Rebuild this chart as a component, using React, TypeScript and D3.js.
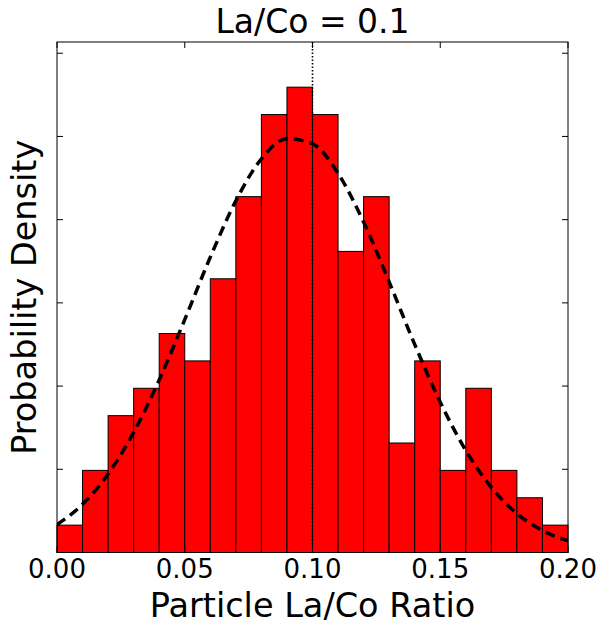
import React from "react";
import * as d3 from "d3";

// Histogram bins (left edges) and probability densities
const binEdges = [0.0, 0.01, 0.02, 0.03, 0.04, 0.05, 0.06, 0.07, 0.08, 0.09, 0.1, 0.11, 0.12, 0.13, 0.14, 0.15, 0.16, 0.17, 0.18, 0.19];
const binWidth = 0.01;
const densities = [0.658, 1.974, 3.289, 3.947, 5.263, 4.605, 6.579, 8.553, 10.526, 11.184, 10.526, 7.237, 8.553, 2.632, 4.605, 1.974, 3.947, 1.974, 1.316, 0.658];

// Fitted normal curve, values read at each 0.01 step
const curveX = [0.0, 0.01, 0.02, 0.03, 0.04, 0.05, 0.06, 0.07, 0.08, 0.09, 0.1, 0.11, 0.12, 0.13, 0.14, 0.15, 0.16, 0.17, 0.18, 0.19, 0.2];
const curveY = [0.668, 1.158, 1.886, 2.886, 4.146, 5.597, 7.098, 8.454, 9.461, 9.946, 9.822, 9.113, 7.942, 6.503, 5.001, 3.614, 2.453, 1.564, 0.936, 0.527, 0.279];

const xTicks = [0.0, 0.05, 0.1, 0.15, 0.2];
const xTickLabels = ["0.00", "0.05", "0.10", "0.15", "0.20"];
const yTicks = [0, 2, 4, 6, 8, 10, 12];
const targetRatio = 0.1;

const title = "La/Co = 0.1";
const xLabel = "Particle La/Co Ratio";
const yLabel = "Probability Density";

export default function App() {
  const W = 600, H = 630;
  const left = 57, right = 568, top = 42, bottom = 552.5;
  const x = d3.scaleLinear().domain([0, 0.2]).range([left, right]);
  const y = d3.scaleLinear().domain([0, 12.27]).range([bottom, top]);
  const font = "'DejaVu Sans', sans-serif";
  const tickLen = 6;

  const line = d3
    .line<number>()
    .x((_, i) => x(curveX[i]))
    .y((d) => y(d))
    .curve(d3.curveMonotoneX);

  return (
    <svg width={W} height={H} style={{ position: "absolute", left: 0, top: 0, background: "#fff" }}>
      <defs>
        <clipPath id="plotclip">
          <rect x={left} y={top} width={right - left} height={bottom - top} />
        </clipPath>
      </defs>
      {binEdges.map((b, i) => (
        <rect
          key={i}
          x={x(b)}
          y={y(densities[i])}
          width={x(b + binWidth) - x(b)}
          height={y(0) - y(densities[i])}
          fill="#ff0000"
          stroke="#000"
          strokeWidth={1}
        />
      ))}
      <g clipPath="url(#plotclip)">
        <path d={line(curveY) || ""} fill="none" stroke="#000" strokeWidth={3.5} strokeDasharray="10,6" />
        <line x1={x(targetRatio)} x2={x(targetRatio)} y1={top} y2={bottom} stroke="#000" strokeWidth={1.6} strokeDasharray="1.5,2" />
      </g>
      <rect x={left} y={top} width={right - left} height={bottom - top} fill="none" stroke="#000" strokeWidth={1} />
      {xTicks.map((t, i) => (
        <g key={"xt" + i}>
          <line x1={x(t)} x2={x(t)} y1={bottom} y2={bottom - tickLen} stroke="#000" strokeWidth={1} />
          <line x1={x(t)} x2={x(t)} y1={top} y2={top + tickLen} stroke="#000" strokeWidth={1} />
          <text x={x(t)} y={578} textAnchor="middle" fontFamily={font} fontSize={26} fill="#000">
            {xTickLabels[i]}
          </text>
        </g>
      ))}
      {yTicks.map((t, i) => (
        <g key={"yt" + i}>
          <line x1={left} x2={left + tickLen} y1={y(t)} y2={y(t)} stroke="#000" strokeWidth={1} />
          <line x1={right} x2={right - tickLen} y1={y(t)} y2={y(t)} stroke="#000" strokeWidth={1} />
        </g>
      ))}
      <text x={(left + right) / 2} y={33} textAnchor="middle" fontFamily={font} fontSize={33} fill="#000">
        {title}
      </text>
      <text x={(left + right) / 2} y={617} textAnchor="middle" fontFamily={font} fontSize={33.5} fill="#000">
        {xLabel}
      </text>
      <text
        transform={`translate(36,${(top + bottom) / 2}) rotate(-90)`}
        textAnchor="middle"
        fontFamily={font}
        fontSize={33.5}
        fill="#000"
      >
        {yLabel}
      </text>
    </svg>
  );
}
